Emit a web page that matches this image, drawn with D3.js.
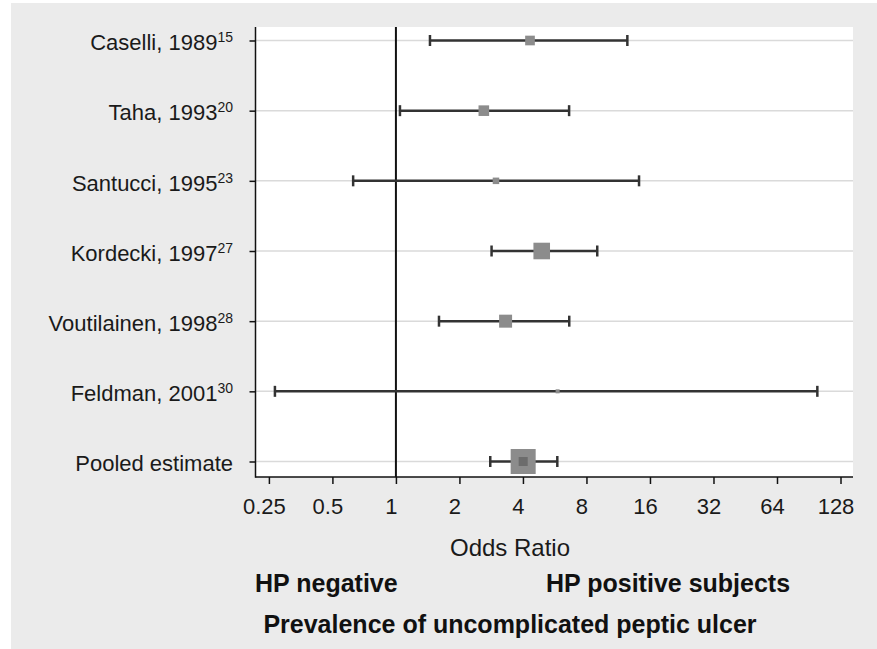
<!DOCTYPE html>
<html>
<head>
<meta charset="utf-8">
<script src="https://cdn.jsdelivr.net/npm/d3@7"></script>
<style>
    body { margin: 0; background: #ffffff; }
    svg { display: block; font-family: "Liberation Sans", Arial, sans-serif; }
    .row-grid { stroke: #dadada; stroke-width: 1.5; }
    .ci-line { stroke: #333333; stroke-width: 2.5; }
    .ci-cap { stroke: #333333; stroke-width: 2.5; }
    .box { fill: #8c8c8c; }
    .axis text { fill: #1a1a1a; }
</style>
</head>
<body>
<div id="chart"></div>
<script>
// Studies and their odds ratios
const studies = ["Caselli, 1989", "Taha, 1993", "Santucci, 1995", "Kordecki, 1997",
    "Voutilainen, 1998", "Feldman, 2001", "Pooled estimate"];
const refs = ["15", "20", "23", "27", "28", "30", ""];
const oddsRatio = [4.32, 2.61, 2.98, 4.91, 3.31, 5.84, 4.01];
const ciLower = [1.45, 1.045, 0.627, 2.84, 1.60, 0.267, 2.80];
const ciUpper = [12.5, 6.62, 14.2, 9.0, 6.63, 99.4, 5.82];
const weights = [15, 18, 6.8, 44, 27, 2.6, 100]; // relative box weights
const xTicks = [0.25, 0.5, 1, 2, 4, 8, 16, 32, 64, 128];

const W = 877, H = 649;
const plot = { left: 255.5, right: 853, top: 27, bottom: 477 };

const svg = d3.select("#chart").append("svg")
    .attr("width", W)
    .attr("height", H);

// grey page background (thin white strip on left/top like the scan)
svg.append("rect")
    .attr("x", 11).attr("y", 3)
    .attr("width", W - 11).attr("height", H - 3)
    .attr("fill", "#ebebeb");

svg.append("rect")
    .attr("x", plot.left).attr("y", plot.top)
    .attr("width", plot.right - plot.left).attr("height", plot.bottom - plot.top)
    .attr("fill", "#ffffff");

const x = d3.scaleLog().base(2)
    .domain([0.216, 146.7])
    .range([plot.left, plot.right]);

const y = d3.scalePoint()
    .domain(studies)
    .range([40.5, 461.5]);

const size = d3.scaleSqrt().domain([0, 100]).range([0, 25]);

const rows = studies.map((s, i) => ({
    name: s, ref: refs[i], or: oddsRatio[i], lo: ciLower[i], hi: ciUpper[i], w: weights[i]
}));

// row grid lines
svg.append("g").selectAll("line")
    .data(rows)
    .join("line")
    .attr("class", "row-grid")
    .attr("x1", plot.left).attr("x2", plot.right)
    .attr("y1", d => y(d.name)).attr("y2", d => y(d.name));

// line of no effect
svg.append("line")
    .attr("x1", x(1)).attr("x2", x(1))
    .attr("y1", plot.top).attr("y2", plot.bottom)
    .attr("stroke", "#111").attr("stroke-width", 2);

// confidence intervals
const g = svg.append("g");
g.selectAll(".ci-line")
    .data(rows)
    .join("line")
    .attr("class", "ci-line")
    .attr("x1", d => x(d.lo)).attr("x2", d => x(d.hi))
    .attr("y1", d => y(d.name)).attr("y2", d => y(d.name));

const caps = rows.flatMap(d => [{ name: d.name, v: d.lo }, { name: d.name, v: d.hi }]);
g.selectAll(".ci-cap")
    .data(caps)
    .join("line")
    .attr("class", "ci-cap")
    .attr("x1", d => x(d.v)).attr("x2", d => x(d.v))
    .attr("y1", d => y(d.name) - 5.5).attr("y2", d => y(d.name) + 5.5);

// weight boxes
g.selectAll(".box")
    .data(rows)
    .join("rect")
    .attr("class", "box")
    .attr("x", d => x(d.or) - size(d.w) / 2)
    .attr("y", d => y(d.name) - size(d.w) / 2)
    .attr("width", d => size(d.w))
    .attr("height", d => size(d.w));

// pooled point marker inside the big box
const pooled = rows[rows.length - 1];
g.append("rect")
    .attr("x", x(pooled.or) - 4.5).attr("y", y(pooled.name) - 4.5)
    .attr("width", 9).attr("height", 9)
    .attr("fill", "#6c6c6c");

// axes
const xAxis = svg.append("g")
    .attr("class", "axis")
    .attr("transform", `translate(0,${plot.bottom})`)
    .call(d3.axisBottom(x).tickValues(xTicks).tickFormat(d => d).tickSize(7).tickSizeOuter(0));
xAxis.select(".domain").remove();
xAxis.selectAll(".tick line").attr("stroke", "#111").attr("stroke-width", 1.5);
xAxis.selectAll(".tick text")
    .attr("y", 21.4)
    .attr("dx", -5)
    .style("font-size", "22px");

const yAxis = svg.append("g")
    .attr("class", "axis")
    .attr("transform", `translate(${plot.left},0)`)
    .call(d3.axisLeft(y).tickSize(6).tickPadding(16.5).tickSizeOuter(0));
yAxis.select(".domain").remove();
yAxis.selectAll(".tick line").attr("stroke", "#111").attr("stroke-width", 1.5);
yAxis.selectAll(".tick text")
    .attr("dy", "0.42em")
    .style("font-size", "22px")
    .each(function (d, i) {
        const t = d3.select(this).text(d);
        if (refs[i]) {
            t.append("tspan")
                .attr("dy", -8)
                .style("font-size", "14px")
                .text(refs[i]);
        }
    });

// axis lines
svg.append("line")
    .attr("x1", plot.left).attr("x2", plot.left)
    .attr("y1", plot.top).attr("y2", plot.bottom + 0.75)
    .attr("stroke", "#111").attr("stroke-width", 1.5);
svg.append("line")
    .attr("x1", plot.left).attr("x2", plot.right)
    .attr("y1", plot.bottom).attr("y2", plot.bottom)
    .attr("stroke", "#111").attr("stroke-width", 1.5);

// titles
svg.append("text")
    .attr("x", 510).attr("y", 556)
    .attr("text-anchor", "middle")
    .style("font-size", "24px")
    .attr("fill", "#1a1a1a")
    .text("Odds Ratio");

svg.append("text")
    .attr("x", 255).attr("y", 592)
    .style("font-size", "25px").style("font-weight", "bold")
    .attr("fill", "#111")
    .text("HP negative");

svg.append("text")
    .attr("x", 546).attr("y", 592)
    .style("font-size", "25px").style("font-weight", "bold")
    .attr("fill", "#111")
    .text("HP positive subjects");

svg.append("text")
    .attr("x", 510).attr("y", 633)
    .attr("text-anchor", "middle")
    .style("font-size", "25px").style("font-weight", "bold")
    .attr("fill", "#111")
    .text("Prevalence of uncomplicated peptic ulcer");
</script>
</body>
</html>
